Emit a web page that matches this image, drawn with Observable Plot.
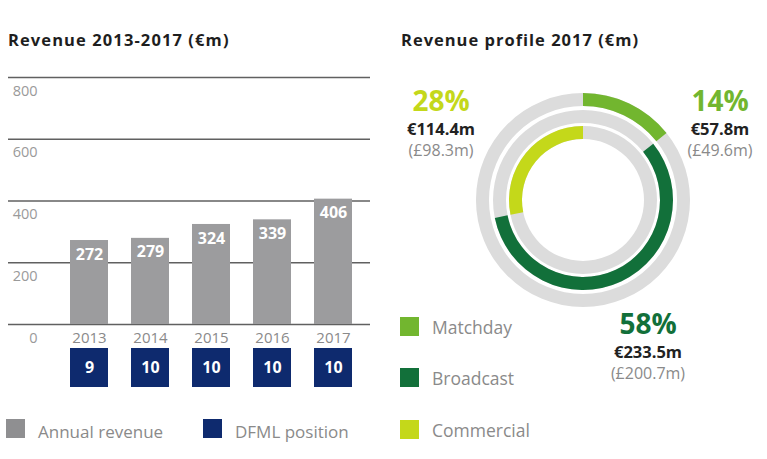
<!DOCTYPE html>
<html>
<head>
<meta charset="utf-8">
<script src="https://cdn.jsdelivr.net/npm/d3@7"></script>
<script src="https://cdn.jsdelivr.net/npm/@observablehq/plot@0.6"></script>
<style>
  body { margin: 0; background: #fff; font-family: "Open Sans", sans-serif; }
  #wrap { position: relative; width: 767px; height: 459px; overflow: hidden; background: #fff; }
  #wrap svg { position: absolute; overflow: visible; }
  .lbl { position: absolute; line-height: 1; white-space: nowrap; }
  .sw { position: absolute; width: 19px; height: 19px; }
</style>
</head>
<body>
<div id="wrap"></div>
<script>
// ---- data ----
const years = ["2013", "2014", "2015", "2016", "2017"];
const revenue = [272, 279, 324, 339, 406];
const dfmlPosition = [9, 10, 10, 10, 10];
const yTicks = [0, 200, 400, 600, 800];

const segments = ["Matchday", "Broadcast", "Commercial"];
const segEUR = [57.8, 233.5, 114.4];
const segGBP = [49.6, 200.7, 98.3];
const segPct = [14, 58, 28];

// ---- styles ----
const segColors = ["#72b62f", "#12703a", "#c4d81a"];
const barGray = "#9c9c9e";
const navy = "#0e2a6e";
const ringGray = "#dcdcdc";

const wrap = document.getElementById("wrap");

const revData = years.map((y, i) => ({year: y, value: revenue[i]}));
const dfmlData = years.map((y, i) => ({year: y, pos: dfmlPosition[i]}));

// ---- left: revenue bars ----
const xOpts = {domain: years, range: [45, 377], padding: 0.38, axis: null};
const left = Plot.plot({
  width: 377, height: 345,
  marginLeft: 8, marginRight: 7, marginTop: 77, marginBottom: 21,
  x: xOpts,
  y: {domain: [0, 800], axis: null},
  style: {fontFamily: "Open Sans", background: "transparent", overflow: "visible"},
  marks: [
    Plot.ruleY(yTicks, {stroke: "#606060", strokeWidth: 1.3}),
    Plot.barY(revData, {x: "year", y: "value", fill: barGray}),
    Plot.text(revData, {x: "year", y: "value", text: d => String(d.value), dy: 14,
      fill: "white", fontWeight: 700, fontSize: 16}),
    Plot.text(years, {x: d => d, y: () => 0, text: d => d, dy: 13.5, fill: "#8a8a8a", fontSize: 15}),
    Plot.text(yTicks, {y: d => d, text: d => String(d), frameAnchor: "left", textAnchor: "end",
      dx: 29, dy: 13.5, fill: "#9a9a9a", fontSize: 14.5})
  ]
});
left.style.left = "0px"; left.style.top = "0px";
wrap.appendChild(left);

// ---- left: DFML position row ----
const dfml = Plot.plot({
  width: 377, height: 45,
  marginLeft: 8, marginRight: 7, marginTop: 3, marginBottom: 3,
  x: xOpts,
  y: {domain: ["DFML"], axis: null, padding: 0},
  style: {fontFamily: "Open Sans", background: "transparent", overflow: "visible"},
  marks: [
    Plot.cell(dfmlData, {x: "year", y: () => "DFML", fill: navy}),
    Plot.text(dfmlData, {x: "year", y: () => "DFML", text: d => String(d.pos),
      fill: "white", fontWeight: 700, fontSize: 16})
  ]
});
dfml.style.left = "0px"; dfml.style.top = "345px";
wrap.appendChild(dfml);

// ---- right: concentric donut ----
const ringFr = [[94 / 107, 1], [77 / 107, 90 / 107], [61 / 107, 74 / 107]];
const donutMark = (index, scales) => {
  const cx = scales.x(0), cy = scales.y(0), R = scales.x(1) - scales.x(0);
  const g = d3.create("svg:g").attr("transform", `translate(${cx},${cy})`);
  const total = d3.sum(segEUR);
  let acc = 0;
  segments.forEach((s, i) => {
    const a0 = acc / total * 2 * Math.PI;
    acc += segEUR[i];
    const a1 = acc / total * 2 * Math.PI;
    const arc = d3.arc().innerRadius(ringFr[i][0] * R).outerRadius(ringFr[i][1] * R);
    g.append("path").attr("d", arc({startAngle: 0, endAngle: 2 * Math.PI})).attr("fill", ringGray);
    g.append("path").attr("d", arc({startAngle: a0, endAngle: a1})).attr("fill", segColors[i]);
  });
  return g.node();
};

// annotation blocks (one text element per segment, three lines)
const annX = [333, 261, 54];       // centre x inside the right panel
const annBase = [110.5, 333.5, 110.5]; // baseline of the percentage line
const annMark = () => {
  const g = d3.create("svg:g").attr("font-family", "Open Sans").attr("text-anchor", "middle");
  segments.forEach((s, i) => {
    const t = g.append("text");
    t.append("tspan").attr("x", annX[i]).attr("y", annBase[i])
      .attr("font-size", 28).attr("font-weight", 700).attr("fill", segColors[i])
      .text(segPct[i] + "%");
    t.append("tspan").attr("x", annX[i]).attr("y", annBase[i] + 24.5)
      .attr("font-size", 16.5).attr("font-weight", 700).attr("fill", "#222")
      .text("€" + segEUR[i].toFixed(1) + "m");
    t.append("tspan").attr("x", annX[i]).attr("y", annBase[i] + 45)
      .attr("font-size", 16).attr("fill", "#8a8a8a")
      .text("(£" + segGBP[i].toFixed(1) + "m)");
  });
  return g.node();
};

const right = Plot.plot({
  width: 380, height: 459, margin: 0,
  x: {domain: [-1, 1], range: [196 - 107, 196 + 107], axis: null},
  y: {domain: [-1, 1], range: [200 + 107, 200 - 107], axis: null},
  style: {background: "transparent", overflow: "visible"},
  marks: [donutMark, annMark]
});
right.style.left = "387px"; right.style.top = "0px";
wrap.appendChild(right);

// ---- HTML titles & legends ----
function label(x, baseline, text, size, opts = {}) {
  const d = document.createElement("div");
  d.className = "lbl";
  d.textContent = text;
  Object.assign(d.style, {
    left: x + "px",
    top: (baseline - 0.888 * size) + "px",
    fontSize: size + "px",
    fontWeight: opts.weight || 400,
    color: opts.color || "#222",
    letterSpacing: (opts.ls || 0) + "px"
  });
  wrap.appendChild(d);
}
function swatch(x, y, color) {
  const s = document.createElement("div");
  s.className = "sw";
  Object.assign(s.style, {left: x + "px", top: y + "px", background: color});
  wrap.appendChild(s);
}

label(8, 47, "Revenue 2013-2017 (€m)", 16.5, {weight: 700, ls: 1.1, color: "#1e1e1e"});
label(401, 47, "Revenue profile 2017 (€m)", 16.5, {weight: 700, ls: 1.0, color: "#1e1e1e"});

// left legend
swatch(6, 419, "#8f8f91"); label(38, 438, "Annual revenue", 17, {color: "#8a8a8a"});
swatch(203, 419, navy); label(235, 438, "DFML position", 17, {color: "#8a8a8a"});

// right legend
const legendTops = [317, 368, 420];
segments.forEach((s, i) => {
  swatch(400, legendTops[i], segColors[i]);
  label(432, legendTops[i] + 18, s, 17.5, {color: "#8a8a8a"});
});
</script>
</body>
</html>
